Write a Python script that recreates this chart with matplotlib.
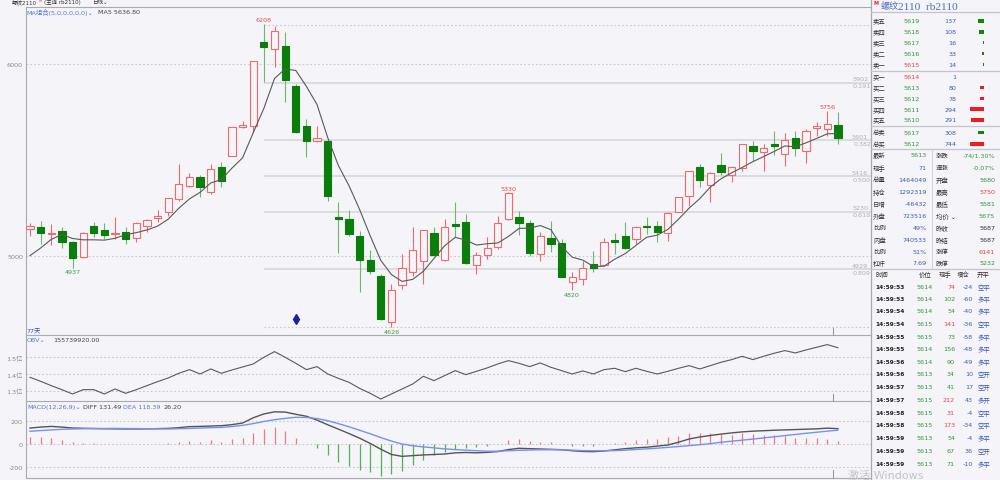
import matplotlib
matplotlib.use('Agg')
import matplotlib.pyplot as plt
import numpy as np
import pandas as pd

plt.rcParams['font.family'] = ['DejaVu Sans', 'Noto Sans CJK SC']

# ---------------- data ----------------
opens = [5139, 5148, 5111, 5127, 5070, 4993, 5153, 5134, 5111, 5122, 5090, 5157, 5198, 5226, 5296, 5364,
         5410, 5330, 5464, 5522, 5669, 5675, 6113, 6078, 6092, 5883, 5678, 5600, 5600, 5202, 5190, 5101,
         4979, 4892, 4652, 4847, 4913, 4974, 5118, 4979, 5164, 5177, 4951, 5005, 5043, 5191, 5202, 5170,
         5009, 5094, 5066, 4864, 4878, 4955, 4951, 5080, 5101, 5087, 5157, 5157, 5118, 5230, 5313, 5461,
         5370, 5475, 5421, 5459, 5570, 5539, 5583, 5529, 5612, 5548, 5668, 5661, 5680]
highs = [5169, 5181, 5165, 5151, 5075, 5125, 5178, 5169, 5200, 5148, 5174, 5191, 5238, 5303, 5478, 5430,
         5423, 5477, 5487, 5673, 5704, 6017, 6208, 6200, 6165, 5895, 5713, 5678, 5604, 5278, 5240, 5127,
         5031, 4904, 4850, 5009, 5151, 5136, 5148, 5191, 5278, 5219, 5017, 5099, 5205, 5330, 5231, 5184,
         5122, 5181, 5087, 4913, 4974, 5026, 5090, 5118, 5174, 5157, 5200, 5183, 5226, 5308, 5442, 5478,
         5438, 5536, 5466, 5584, 5600, 5583, 5652, 5640, 5652, 5661, 5696, 5756, 5750]
lows = [5104, 5061, 5058, 5042, 4937, 4990, 5096, 5085, 5087, 5059, 5070, 5125, 5174, 5205, 5287, 5357,
        5308, 5322, 5357, 5518, 5664, 5644, 5904, 5983, 5800, 5640, 5513, 5591, 5287, 5012, 5104, 4812,
        4904, 4666, 4626, 4826, 4896, 4851, 5000, 4970, 5096, 4957, 4904, 4983, 5035, 5188, 5110, 5000,
        4974, 5017, 4887, 4820, 4847, 4913, 4948, 5009, 5035, 5059, 5113, 5073, 5078, 5226, 5261, 5357,
        5282, 5423, 5386, 5442, 5496, 5440, 5525, 5470, 5522, 5483, 5626, 5626, 5581]
closes = [5153, 5118, 5118, 5071, 4988, 5118, 5118, 5110, 5118, 5085, 5170, 5188, 5209, 5299, 5372, 5412,
          5360, 5452, 5391, 5669, 5682, 6014, 6087, 6170, 5917, 5644, 5598, 5612, 5313, 5190, 5115, 4979,
          4922, 4670, 4821, 4937, 5031, 5134, 5004, 5151, 5157, 4960, 5005, 5038, 5170, 5327, 5170, 5014,
          5104, 5063, 4890, 4890, 4937, 4937, 5070, 5073, 5038, 5150, 5148, 5125, 5223, 5304, 5440, 5395,
          5430, 5435, 5461, 5581, 5546, 5560, 5570, 5605, 5560, 5649, 5675, 5689, 5613]
prior_closes = [4918, 4893, 4946, 5090]   # closes before the visible window (for MA5)

obv_yi = [1.380, 1.356, 1.330, 1.306, 1.280, 1.306, 1.306, 1.280, 1.310, 1.284, 1.306, 1.330, 1.354,
          1.376, 1.404, 1.426, 1.400, 1.430, 1.404, 1.424, 1.442, 1.460, 1.500, 1.534, 1.500, 1.464,
          1.426, 1.444, 1.400, 1.374, 1.350, 1.314, 1.284, 1.250, 1.280, 1.310, 1.340, 1.386, 1.360,
          1.390, 1.420, 1.396, 1.416, 1.436, 1.460, 1.480, 1.464, 1.444, 1.466, 1.440, 1.420, 1.400,
          1.418, 1.400, 1.426, 1.434, 1.414, 1.434, 1.416, 1.400, 1.416, 1.434, 1.450, 1.430, 1.450,
          1.470, 1.486, 1.506, 1.486, 1.506, 1.524, 1.540, 1.526, 1.544, 1.560, 1.576, 1.557]

diff = [137, 145, 151, 145, 137, 135, 133, 131, 130, 129, 129, 130, 132, 134, 140, 149, 151, 154, 157,
        166, 180, 225, 258, 276, 274, 255, 238, 205, 165, 128, 90, 50, 5, -45, -90, -106, -100, -94, -90,
        -86, -76, -73, -76, -72, -65, -48, -37, -40, -43, -46, -49, -58, -64, -66, -60, -50, -40, -33,
        -28, -18, -9, 15, 43, 60, 73, 85, 95, 104, 110, 114, 118, 121, 124, 127, 130, 136, 131.49]
dea = [109, 115, 121, 126, 129, 131, 132, 133, 134, 133, 132, 131, 130, 129, 131, 134, 137, 140, 143,
       150, 160, 175, 193, 208, 220, 229, 228, 218, 200, 175, 148, 118, 88, 55, 25, 0, -15, -25, -33,
       -42, -48, -53, -58, -62, -62, -58, -54, -52, -50, -49, -50, -53, -57, -58, -58, -57, -53, -47,
       -42, -36, -29, -22, -14, -6, 3, 15, 24, 33, 42, 52, 62, 72, 82, 92, 101, 110, 118.39]
macd_bar = [57, 57, 51, 37, 20, 11, 6, 3, 1, -1, -3, 1, 3, 6, 14, 26, 20, 31, 20, 46, 54, 97, 129, 149,
            114, 54, 2, -34, -94, -151, -186, -220, -237, -271, -260, -229, -180, -134, -94, -66, -43,
            -37, -29, -20, 2, 37, 43, 23, 20, 14, 3, -14, -20, -17, -3, 9, 20, 34, 43, 43, 57, 71, 94,
            94, 94, 86, 77, 94, 86, 77, 77, 66, 51, 49, 49, 43, 26.2]

fib_ratios = ['0.191', '0.382', '0.500', '0.618', '0.809']
fib_prices = [5902, 5601, 5416, 5230, 4929]
fib_high, fib_low = 6202, 4629
fib_start = 22
price_grid = [6000, 5000]

extreme_idx = [4, 22, 34, 45, 51, 75]
extreme_kind = ['low', 'high', 'low', 'high', 'low', 'high']
signal_idx, signal_price = 25, 4670

book_labels = ['卖五', '卖四', '卖三', '卖二', '卖一', '买一', '买二', '买三', '买四', '买五']
book_prices = ['5619', '5618', '5617', '5616', '5615', '5614', '5613', '5612', '5611', '5610']
book_price_col = ['g', 'g', 'g', 'g', 'r', 'r', 'g', 'g', 'g', 'g']
book_vols = [137, 108, 16, 33, 14, 1, 80, 78, 294, 291]
total_labels = ['总卖', '总买']
total_prices = ['5617', '5612']
total_vols = [308, 744]

stat_labels_l = ['最新', '现手', '总量', '持仓', '日增', '外盘', '比例', '内盘', '比例', '杠杆']
stat_values_l = ['5613', '71', '1464049', '1292319', '-46432', '723516', '49%', '740533', '51%', '7.69']
stat_cols_l = ['g', 'b', 'b', 'b', 'b', 'b', 'b', 'b', 'b', 'b']
stat_labels_r = ['涨跌', '速涨', '开盘', '最高', '最低', '均价', '昨收', '昨结', '涨停', '跌停']
stat_values_r = ['-74/1.30%', '-0.07%', '5680', '5750', '5581', '5675', '5687', '5687', '6141', '5232']
stat_cols_r = ['g', 'g', 'g', 'r', 'g', 'g', 'k', 'k', 'r', 'g']

trade_headers = ['时间', '价位', '现手', '增仓', '开平']
trade_times = ['14:59:53', '14:59:53', '14:59:54', '14:59:54', '14:59:55', '14:59:55', '14:59:56',
               '14:59:56', '14:59:57', '14:59:57', '14:59:58', '14:59:58', '14:59:59', '14:59:59', '14:59:59']
trade_prices = ['5614', '5614', '5614', '5615', '5615', '5614', '5614', '5613', '5613', '5615', '5615',
                '5615', '5613', '5613', '5613']
trade_vols = ['74', '102', '54', '141', '73', '156', '90', '34', '41', '212', '31', '173', '54', '67', '71']
trade_vol_cols = ['r', 'g', 'g', 'r', 'g', 'g', 'g', 'g', 'g', 'r', 'r', 'r', 'g', 'g', 'g']
trade_oi = ['-24', '-60', '-40', '-36', '-58', '-48', '-49', '10', '17', '43', '-4', '-34', '-4', '36', '-10']
trade_type = ['空平', '多平', '多平', '空平', '多平', '多平', '多平', '空开', '空开', '多开', '空平', '空平',
              '多平', '空开', '多平']

# ---------------- style ----------------
BG = '#f4f4f9'
RED = '#f06a6a'
GREEN_BODY = '#0a7d0a'
GREEN_WICK = '#6db86d'
GRID = '#c9c9d0'
FIBC = '#d9d9de'
SPINE = '#a9a9b0'
TXT_COL = {'g': '#2e9a2e', 'r': '#e8403f', 'b': '#3a5db5', 'k': '#333333'}
BLUE_L = '#5577d8'
FS = 4.6

W, H = 1000, 481
fig = plt.figure(figsize=(W / 100, H / 100), dpi=100, facecolor=BG)


def px_axes(x0, y0, x1, y1, **kw):
    return fig.add_axes([x0 / W, 1 - y1 / H, (x1 - x0) / W, (y1 - y0) / H], **kw)


n = len(closes)
idx = np.arange(n)
o = np.array(opens, float); c = np.array(closes, float)
hi = np.array(highs, float); lo = np.array(lows, float)
XL = (-0.423, 79.11)


def style_panel(ax, bottom=False):
    ax.set_facecolor(BG)
    ax.set_xlim(*XL)
    ax.spines['right'].set_visible(False)
    ax.spines['bottom'].set_visible(bottom)
    for s in ['left', 'top', 'bottom']:
        ax.spines[s].set_color(SPINE)
        ax.spines[s].set_linewidth(0.8)
    ax.set_xticks([])
    ax.tick_params(axis='y', length=0, labelsize=FS, labelcolor='#8a8a8a', pad=1.8)


# ---- main price panel ----
ax = px_axes(25.5, 7.5, 871, 336)
style_panel(ax)
ax.set_ylim(4586, 6300)
ax.set_yticks(price_grid)
ax.set_yticklabels([str(v) for v in price_grid])
for p in price_grid:
    ax.axhline(p, color=GRID, lw=0.8, ls=(0, (1.5, 2)), zorder=1)
ax.hlines(fib_prices, fib_start, XL[1], color=FIBC, lw=1.3, zorder=1)
ax.hlines([fib_high, fib_low], fib_start, XL[1], color=GRID, lw=0.8, ls=(0, (1.5, 2)), zorder=1)
for r, p in zip(fib_ratios, fib_prices):
    ax.annotate(str(p), xy=(1.0, p), xycoords=('axes fraction', 'data'), xytext=(-2, 1),
                textcoords='offset points', ha='right', va='bottom', fontsize=FS, color='#b0b0b6')
    ax.annotate(r, xy=(1.0, p), xycoords=('axes fraction', 'data'), xytext=(0, -0.5),
                textcoords='offset points', ha='right', va='top', fontsize=FS, color='#b0b0b6')

upm = c >= o
wick_cols = [RED if u else GREEN_WICK for u in upm]
ax.vlines(idx, lo, hi, colors=wick_cols, lw=0.8, zorder=2)
body_bot = np.minimum(o, c)
body_h = np.maximum(np.abs(c - o), 3)
ax.bar(idx, body_h, bottom=body_bot, width=0.68,
       color=[BG if u else GREEN_BODY for u in upm],
       edgecolor=[RED if u else GREEN_BODY for u in upm], lw=0.8, zorder=3)

ma5 = pd.Series(prior_closes + closes, dtype=float).rolling(5).mean().to_numpy()[len(prior_closes):]
ax.plot(idx, ma5, color='#5a5a5a', lw=0.8, zorder=4)

for i, k in zip(extreme_idx, extreme_kind):
    if k == 'high':
        ax.annotate(str(highs[i]), xy=(i, highs[i]), xytext=(0, 1.2), textcoords='offset points',
                    ha='center', va='bottom', fontsize=FS, color='#ec4a4a')
    else:
        ax.annotate(str(lows[i]), xy=(i, lows[i]), xytext=(0, -1.2), textcoords='offset points',
                    ha='center', va='top', fontsize=FS, color='#3f9f3f')
ax.plot([signal_idx], [signal_price], marker='d', ms=5.5, color='#1f1f9f', zorder=5)
ax.text(0.001, 0.005, '77天', transform=ax.transAxes, fontsize=FS, color='#3a4fc8', ha='left', va='bottom')

# ---- OBV panel ----
ax2 = px_axes(25.5, 336, 871, 402)
style_panel(ax2)
ax2.set_ylim(1.238, 1.6335)
obv_ticks = [1.5, 1.4, 1.3]
ax2.set_yticks(obv_ticks)
ax2.set_yticklabels([f'{v:.1f}亿' for v in obv_ticks])
for v in obv_ticks:
    ax2.axhline(v, color=GRID, lw=0.8, ls=(0, (1.5, 2)), zorder=1)
ax2.plot(idx, obv_yi, color='#5a5a5a', lw=0.8, zorder=3)

# ---- MACD panel ----
ax3 = px_axes(25.5, 402, 871, 478.5)
style_panel(ax3, bottom=True)
ax3.set_ylim(-287.6, 369)
macd_ticks = [200, 0, -200]
ax3.set_yticks(macd_ticks)
ax3.set_yticklabels([str(v) for v in macd_ticks])
for v in macd_ticks:
    ax3.axhline(v, color=GRID, lw=0.8, ls=(0, (1.5, 2)), zorder=1)
ax3.vlines(idx, 0, macd_bar, colors=['#f27a7a' if v >= 0 else '#55b055' for v in macd_bar], lw=0.9, zorder=2)
ax3.plot(idx, diff, color='#555555', lw=1.0, zorder=3)
ax3.plot(idx, dea, color='#7393f0', lw=1.0, zorder=3)

# ---- order book bars ----
axb = px_axes(954, 0, 984, H)
axb.set_xlim(650, 0); axb.set_ylim(H, 0); axb.axis('off')
book_y = [21.7, 32.7, 43.3, 54.3, 65.3, 77.3, 88.3, 99.3, 110, 120.7]
axb.barh(book_y, book_vols, height=3.6, left=0,
         color=['#0c8a0c'] * 5 + ['#ee1c1c'] * 5)
axt = px_axes(954, 0, 984, H)
axt.set_xlim(1640, 0); axt.set_ylim(H, 0); axt.axis('off')
total_y = [133.3, 145]
axt.barh(total_y, total_vols, height=3.6, left=0, color=['#0c8a0c', '#ee1c1c'])

# ---- overlay (texts, panel frame) ----
ov = fig.add_axes([0, 0, 1, 1])
ov.set_xlim(0, W); ov.set_ylim(H, 0); ov.axis('off'); ov.patch.set_alpha(0)

# header strip (clipped at top)
ov.text(12, 2.2, '螺纹2110', fontsize=4.0, color='#333', va='center')
ov.text(39, 0.6, 'M', fontsize=2.6, color='#e03030', va='center')
ov.text(44, 2.2, '(主连 rb2110)', fontsize=4.0, color='#333', va='center')
ov.text(92, 2.2, '日线⌄', fontsize=4.0, color='#333', va='center')

ov.text(26.7, 12.7, 'MA组合(5,0,0,0,0,0)⌄', fontsize=FS, color=BLUE_L, va='center')
ov.text(97.7, 12.7, 'MA5 5636.80', fontsize=FS, color='#444', va='center')
ov.text(27, 340.3, 'OBV⌄', fontsize=FS, color=BLUE_L, va='center')
ov.text(53, 340.3, '155739920.00', fontsize=FS, color='#444', va='center')
ov.text(27, 407.7, 'MACD(12,26,9)⌄', fontsize=FS, color=BLUE_L, va='center')
ov.text(82.7, 407.7, 'DIFF 131.49', fontsize=FS, color='#444', va='center')
ov.text(123.3, 407.7, 'DEA 118.39', fontsize=FS, color=BLUE_L, va='center')
ov.text(164, 407.7, '26.20', fontsize=FS, color='#444', va='center')

for y0, y1 in [(329, 336), (395, 402), (471, 478.5)]:
    ov.plot([833, 833], [y0, y1], color='#9a9aa0', lw=0.8)

# right panel frame
ov.plot([871, 871], [0, H], color=SPINE, lw=0.9)
for y in [13.3, 71.7, 126.7, 150, 269.5]:
    ov.plot([871, W], [y, y], color='#c4c4cc', lw=0.9)
ov.plot([931.7, 931.7], [150, 269.5], color='#d4d4da', lw=0.8)

ov.text(873.5, 3.3, 'M', fontsize=3.6, color='#e02020', fontweight='bold', va='center')
ov.text(880.5, 7, '螺纹', fontsize=6.6, color='#4f6fba', va='center')
ov.text(898, 7, '2110  rb2110', fontsize=8.2, color='#4f6fba', va='center',
        family=['Liberation Serif', 'DejaVu Serif'])

for lab, pr, pc, y in zip(book_labels, book_prices, book_price_col, book_y):
    ov.text(873, y, lab, fontsize=FS, color='#333', va='center')
    ov.text(903, y, pr, fontsize=FS, color=TXT_COL[pc], va='center')
for v, y in zip(book_vols, book_y):
    ov.text(956.7, y, str(v), fontsize=FS, color=TXT_COL['b'], va='center', ha='right')
for lab, pr, v, y, pc in zip(total_labels, total_prices, total_vols, total_y, ['g', 'g']):
    ov.text(873, y, lab, fontsize=FS, color='#333', va='center')
    ov.text(903, y, pr, fontsize=FS, color=TXT_COL[pc], va='center')
    ov.text(956.7, y, str(v), fontsize=FS, color=TXT_COL['b'], va='center', ha='right')

stat_y = [156, 168.3, 180.5, 192.5, 204.5, 216.5, 228.5, 240.5, 252.3, 264]
for i, y in enumerate(stat_y):
    ov.text(873, y, stat_labels_l[i], fontsize=FS, color='#333', va='center')
    ov.text(926.7, y, stat_values_l[i], fontsize=FS, color=TXT_COL[stat_cols_l[i]], va='center', ha='right')
    lab = stat_labels_r[i] + (' ⌄' if stat_labels_r[i] == '均价' else '')
    ov.text(936, y, lab, fontsize=FS, color='#333', va='center')
    ov.text(995, y, stat_values_r[i], fontsize=FS, color=TXT_COL[stat_cols_r[i]], va='center', ha='right')

hx = [875, 919, 939, 957, 977]
for hname, x in zip(trade_headers, hx):
    ov.text(x, 275, hname, fontsize=FS, color='#333', va='center')
trade_y = [287.3, 299.3, 311.7, 325, 337.7, 350, 362.7, 375, 387.7, 400.7, 413.3, 426, 438.7, 451.7, 464.3]
for i, y in enumerate(trade_y):
    ov.text(875, y, trade_times[i], fontsize=4.2, color='#222', va='center', fontweight='bold')
    ov.text(933, y, trade_prices[i], fontsize=FS, color=TXT_COL['g'], va='center', ha='right')
    ov.text(955, y, trade_vols[i], fontsize=FS, color=TXT_COL[trade_vol_cols[i]], va='center', ha='right')
    ov.text(973, y, trade_oi[i], fontsize=FS, color=TXT_COL['b'], va='center', ha='right')
    ov.text(978, y, trade_type[i], fontsize=FS, color=TXT_COL['b'], va='center')

ov.text(848, 475.5, '激活 Windows', fontsize=8, color='#c4c4ca', va='center')

fig.savefig('out.png', dpi=100, facecolor=BG)
